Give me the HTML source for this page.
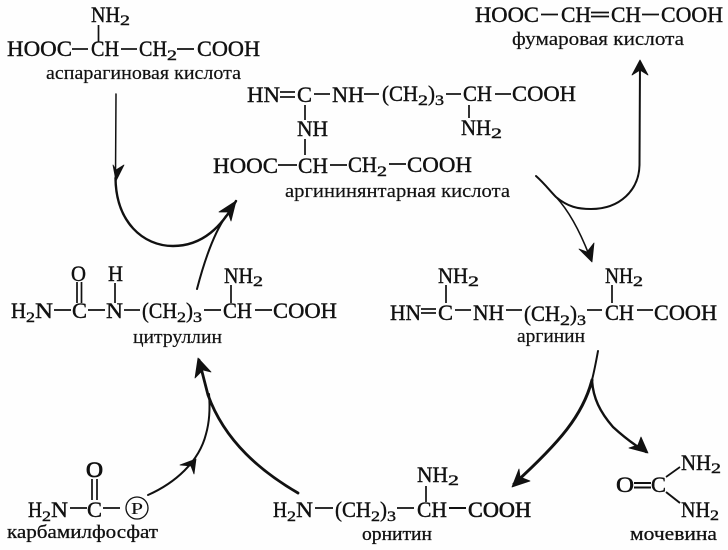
<!DOCTYPE html>
<html><head><meta charset="utf-8"><style>
html,body{margin:0;padding:0;background:#fff}
svg{display:block}
text{font-family:"Liberation Serif","DejaVu Serif",serif;fill:#111;stroke:#111;stroke-width:.4}
.f{font-size:22px}.s{font-size:15px}.l{font-size:19px;stroke-width:.2}
line{stroke:#111;stroke-width:1.7}
.a{fill:none;stroke:#111;stroke-linecap:round;stroke-linejoin:round}
.h{fill:#111;stroke:#111;stroke-width:.8;stroke-linejoin:round}
</style></head><body>
<svg width="728" height="550" viewBox="0 0 728 550" xmlns="http://www.w3.org/2000/svg">
<rect width="728" height="550" fill="#fefefe"/>

<!-- aspartic acid -->
<text class="f" x="91" y="22" textLength="29" lengthAdjust="spacingAndGlyphs">NH</text><text class="s" x="120" y="25" textLength="10" lengthAdjust="spacingAndGlyphs">2</text>
<line x1="98.5" y1="25" x2="98.5" y2="42"/>
<text class="f" x="7" y="56" textLength="65" lengthAdjust="spacingAndGlyphs">HOOC</text>
<line x1="72" y1="49" x2="88" y2="49"/>
<text class="f" x="91" y="56" textLength="28" lengthAdjust="spacingAndGlyphs">CH</text>
<line x1="121" y1="49" x2="137" y2="49"/>
<text class="f" x="139" y="56" textLength="28" lengthAdjust="spacingAndGlyphs">CH</text><text class="s" x="167" y="60" textLength="10" lengthAdjust="spacingAndGlyphs">2</text>
<line x1="177" y1="49" x2="194" y2="49"/>
<text class="f" x="197" y="56" textLength="63" lengthAdjust="spacingAndGlyphs">COOH</text>
<text class="l" x="46" y="79" textLength="195" lengthAdjust="spacingAndGlyphs">аспарагиновая кислота</text>

<!-- argininosuccinic acid -->
<text class="f" x="247" y="102" textLength="33" lengthAdjust="spacingAndGlyphs">HN</text>
<line x1="280" y1="92" x2="295" y2="92"/><line x1="280" y1="97" x2="295" y2="97"/>
<text class="f" x="297" y="102" textLength="15" lengthAdjust="spacingAndGlyphs">C</text>
<line x1="314" y1="94" x2="330" y2="94"/>
<text class="f" x="332" y="102" textLength="32" lengthAdjust="spacingAndGlyphs">NH</text>
<line x1="364" y1="94" x2="379" y2="94"/>
<text class="f" x="382" y="101" textLength="36" lengthAdjust="spacingAndGlyphs">(CH</text><text class="s" x="418" y="105" textLength="10" lengthAdjust="spacingAndGlyphs">2</text><text class="f" x="428" y="101" textLength="7" lengthAdjust="spacingAndGlyphs">)</text><text class="s" x="435" y="105" textLength="9" lengthAdjust="spacingAndGlyphs">3</text>
<line x1="446" y1="94" x2="461" y2="94"/>
<text class="f" x="463" y="101" textLength="29" lengthAdjust="spacingAndGlyphs">CH</text>
<line x1="495" y1="94" x2="511" y2="94"/>
<text class="f" x="512" y="101" textLength="64" lengthAdjust="spacingAndGlyphs">COOH</text>
<line x1="469" y1="105" x2="469" y2="118"/>
<text class="f" x="461" y="135" textLength="30" lengthAdjust="spacingAndGlyphs">NH</text><text class="s" x="491" y="138" textLength="11" lengthAdjust="spacingAndGlyphs">2</text>
<line x1="305" y1="105" x2="305" y2="120"/>
<text class="f" x="297" y="136" textLength="31" lengthAdjust="spacingAndGlyphs">NH</text>
<line x1="305" y1="139" x2="305" y2="155"/>
<text class="f" x="213" y="173" textLength="65" lengthAdjust="spacingAndGlyphs">HOOC</text>
<line x1="278" y1="165" x2="297" y2="165"/>
<text class="f" x="298" y="173" textLength="30" lengthAdjust="spacingAndGlyphs">CH</text>
<line x1="330" y1="165" x2="347" y2="165"/>
<text class="f" x="348" y="172" textLength="29" lengthAdjust="spacingAndGlyphs">CH</text><text class="s" x="377" y="176" textLength="10" lengthAdjust="spacingAndGlyphs">2</text>
<line x1="389" y1="164" x2="406" y2="164"/>
<text class="f" x="407" y="172" textLength="65" lengthAdjust="spacingAndGlyphs">COOH</text>
<text class="l" x="285" y="197" textLength="225" lengthAdjust="spacingAndGlyphs">аргининянтарная кислота</text>

<!-- fumaric acid -->
<text class="f" x="475" y="22" textLength="64" lengthAdjust="spacingAndGlyphs">HOOC</text>
<line x1="541" y1="14.5" x2="558" y2="14.5"/>
<text class="f" x="561" y="22" textLength="30" lengthAdjust="spacingAndGlyphs">CH</text>
<line x1="591" y1="12.5" x2="609" y2="12.5"/><line x1="591" y1="16.5" x2="609" y2="16.5"/>
<text class="f" x="611" y="22" textLength="30" lengthAdjust="spacingAndGlyphs">CH</text>
<line x1="642" y1="14.5" x2="659" y2="14.5"/>
<text class="f" x="661" y="22" textLength="62" lengthAdjust="spacingAndGlyphs">COOH</text>
<text class="l" x="512" y="45" textLength="172" lengthAdjust="spacingAndGlyphs">фумаровая кислота</text>

<!-- citrulline -->
<text class="f" x="71" y="281" textLength="15" lengthAdjust="spacingAndGlyphs">O</text>
<line x1="77" y1="282" x2="77" y2="303"/><line x1="81.5" y1="282" x2="81.5" y2="303"/>
<text class="f" x="108" y="281" textLength="15" lengthAdjust="spacingAndGlyphs">H</text>
<line x1="115" y1="283" x2="115" y2="303"/>
<text class="f" x="224" y="283" textLength="29" lengthAdjust="spacingAndGlyphs">NH</text><text class="s" x="253" y="286" textLength="10" lengthAdjust="spacingAndGlyphs">2</text>
<line x1="231" y1="285" x2="231" y2="303"/>
<text class="f" x="11" y="318" textLength="15" lengthAdjust="spacingAndGlyphs">H</text><text class="s" x="26" y="322" textLength="9" lengthAdjust="spacingAndGlyphs">2</text><text class="f" x="35" y="318" textLength="18" lengthAdjust="spacingAndGlyphs">N</text>
<line x1="54" y1="310" x2="71" y2="310"/>
<text class="f" x="72" y="318" textLength="15" lengthAdjust="spacingAndGlyphs">C</text>
<line x1="88" y1="310" x2="105" y2="310"/>
<text class="f" x="106" y="318" textLength="17" lengthAdjust="spacingAndGlyphs">N</text>
<line x1="124" y1="310" x2="140" y2="310"/>
<text class="f" x="142" y="318" textLength="35" lengthAdjust="spacingAndGlyphs">(CH</text><text class="s" x="177" y="322" textLength="9" lengthAdjust="spacingAndGlyphs">2</text><text class="f" x="186" y="318" textLength="7" lengthAdjust="spacingAndGlyphs">)</text><text class="s" x="193" y="322" textLength="9" lengthAdjust="spacingAndGlyphs">3</text>
<line x1="204" y1="310" x2="221" y2="310"/>
<text class="f" x="223" y="318" textLength="29" lengthAdjust="spacingAndGlyphs">CH</text>
<line x1="255" y1="310" x2="272" y2="310"/>
<text class="f" x="273" y="318" textLength="64" lengthAdjust="spacingAndGlyphs">COOH</text>
<text class="l" x="133" y="343" textLength="89" lengthAdjust="spacingAndGlyphs">цитруллин</text>

<!-- arginine -->
<text class="f" x="438" y="283" textLength="30" lengthAdjust="spacingAndGlyphs">NH</text><text class="s" x="468" y="286" textLength="11" lengthAdjust="spacingAndGlyphs">2</text>
<line x1="446" y1="285" x2="446" y2="303"/>
<text class="f" x="605" y="283" textLength="28" lengthAdjust="spacingAndGlyphs">NH</text><text class="s" x="633" y="286" textLength="10" lengthAdjust="spacingAndGlyphs">2</text>
<line x1="612" y1="285" x2="612" y2="303"/>
<text class="f" x="390" y="320" textLength="31" lengthAdjust="spacingAndGlyphs">HN</text>
<line x1="421" y1="309" x2="436" y2="309"/><line x1="421" y1="313" x2="436" y2="313"/>
<text class="f" x="438" y="320" textLength="15" lengthAdjust="spacingAndGlyphs">C</text>
<line x1="455" y1="310" x2="471" y2="310"/>
<text class="f" x="473" y="320" textLength="31" lengthAdjust="spacingAndGlyphs">NH</text>
<line x1="506" y1="310" x2="522" y2="310"/>
<text class="f" x="524" y="321" textLength="36" lengthAdjust="spacingAndGlyphs">(CH</text><text class="s" x="560" y="325" textLength="10" lengthAdjust="spacingAndGlyphs">2</text><text class="f" x="570" y="321" textLength="7" lengthAdjust="spacingAndGlyphs">)</text><text class="s" x="577" y="325" textLength="9" lengthAdjust="spacingAndGlyphs">3</text>
<line x1="587" y1="310" x2="602" y2="310"/>
<text class="f" x="605" y="320" textLength="29" lengthAdjust="spacingAndGlyphs">CH</text>
<line x1="637" y1="310" x2="653" y2="310"/>
<text class="f" x="654" y="320" textLength="63" lengthAdjust="spacingAndGlyphs">COOH</text>
<text class="l" x="517" y="342" textLength="68" lengthAdjust="spacingAndGlyphs">аргинин</text>

<!-- ornithine -->
<text class="f" x="417" y="482" textLength="31" lengthAdjust="spacingAndGlyphs">NH</text><text class="s" x="448" y="485" textLength="11" lengthAdjust="spacingAndGlyphs">2</text>
<line x1="426" y1="486" x2="426" y2="502"/>
<text class="f" x="273" y="517" textLength="14" lengthAdjust="spacingAndGlyphs">H</text><text class="s" x="287" y="521" textLength="9" lengthAdjust="spacingAndGlyphs">2</text><text class="f" x="296" y="517" textLength="17" lengthAdjust="spacingAndGlyphs">N</text>
<line x1="315" y1="508" x2="333" y2="508"/>
<text class="f" x="335" y="517" textLength="36" lengthAdjust="spacingAndGlyphs">(CH</text><text class="s" x="371" y="521" textLength="9" lengthAdjust="spacingAndGlyphs">2</text><text class="f" x="380" y="517" textLength="7" lengthAdjust="spacingAndGlyphs">)</text><text class="s" x="387" y="521" textLength="9" lengthAdjust="spacingAndGlyphs">3</text>
<line x1="397" y1="508" x2="414" y2="508"/>
<text class="f" x="417" y="517" textLength="30" lengthAdjust="spacingAndGlyphs">CH</text>
<line x1="449" y1="508" x2="466" y2="508" style="stroke-width:2"/>
<text class="f" x="468" y="517" textLength="63" lengthAdjust="spacingAndGlyphs" style="stroke-width:.6">COOH</text>
<text class="l" x="362" y="540" textLength="70" lengthAdjust="spacingAndGlyphs" style="stroke-width:.3">орнитин</text>

<!-- carbamoyl phosphate -->
<text class="f" x="86" y="477" textLength="17" lengthAdjust="spacingAndGlyphs" style="stroke-width:.8">O</text>
<line x1="92" y1="479" x2="92" y2="500"/><line x1="97" y1="479" x2="97" y2="500"/>
<text class="f" x="28" y="517" textLength="14" lengthAdjust="spacingAndGlyphs">H</text><text class="s" x="42" y="521" textLength="9" lengthAdjust="spacingAndGlyphs">2</text><text class="f" x="51" y="517" textLength="17" lengthAdjust="spacingAndGlyphs">N</text>
<line x1="70" y1="508" x2="87" y2="508"/>
<text class="f" x="87" y="517" textLength="15" lengthAdjust="spacingAndGlyphs">C</text>
<line x1="103" y1="508" x2="120" y2="508"/>
<circle cx="137" cy="508" r="11" fill="none" stroke="#111" stroke-width="1.3"/>
<text x="131" y="514" textLength="12" lengthAdjust="spacingAndGlyphs" style="font-size:17px;stroke-width:.1">P</text>
<text class="l" x="7" y="538" textLength="151" lengthAdjust="spacingAndGlyphs" style="stroke-width:.3">карбамилфосфат</text>

<!-- urea -->
<text class="f" x="681" y="470" textLength="30" lengthAdjust="spacingAndGlyphs">NH</text><text class="s" x="711" y="473" textLength="10" lengthAdjust="spacingAndGlyphs">2</text>
<text class="f" x="616" y="492" textLength="18" lengthAdjust="spacingAndGlyphs" style="stroke-width:.5">O</text>
<line x1="634" y1="483" x2="651" y2="483" style="stroke-width:2"/><line x1="634" y1="487.5" x2="651" y2="487.5" style="stroke-width:2"/>
<text class="f" x="651" y="492" textLength="15" lengthAdjust="spacingAndGlyphs">C</text>
<line x1="666" y1="477" x2="680" y2="467"/><line x1="666" y1="492" x2="680" y2="503" style="stroke-width:2"/>
<text class="f" x="681" y="517" textLength="29" lengthAdjust="spacingAndGlyphs">NH</text><text class="s" x="710" y="520" textLength="9" lengthAdjust="spacingAndGlyphs">2</text>
<text class="l" x="630" y="540" textLength="87" lengthAdjust="spacingAndGlyphs" style="stroke-width:.3">мочевина</text>

<!-- arrow: aspartate + citrulline -> argininosuccinate -->
<path class="a" stroke-width="1.5" d="M116 94 L115.5 178"/>
<path class="a" stroke-width="2.4" d="M115.5 178 C116 222 143 246 173 246 C203 246 222 226 236 201"/>
<path class="a" stroke-width="2" d="M197 289 C203 266 212 236 226 216"/>
<path class="h" d="M236 201 L231 221 L228 212 L219 212 Z"/>
<path class="h" d="M116 181 L113 165 L116 170 L124 165 Z"/>

<!-- arrow: argininosuccinate -> fumarate, arginine -->
<path class="a" stroke-width="2" d="M536 176 C545 184 550 191 556 197 C568 207 578 209 591 209 C620 209 639 190 639.5 165 L640 62"/>
<path class="a" stroke-width="1.6" d="M556 197 C570 212 582 236 591 260"/>
<path class="h" d="M640 60 L648 75 L640 70 L632 75 Z"/>
<path class="h" d="M592 262 L579 249 L587 252 L594 243 Z"/>

<!-- arrow: ornithine + carbamoyl -> citrulline -->
<path class="a" stroke-width="2.8" d="M298 493 C262 472 225 442 208 395 L199 360"/>
<path class="a" stroke-width="2" d="M148 495 C175 483 199 462 206 434 C210 420 210 406 209 394"/>
<path class="h" d="M198 358 L211 372 L203 370 L195 378 Z"/>
<path class="h" d="M196 459 L194 474 L191 466 L180 465 Z"/>

<!-- arrow: arginine -> ornithine, urea -->
<path class="a" stroke-width="2" d="M598 351 C596 362 594 372 592 380"/>
<path class="a" stroke-width="3" d="M592 380 C583 415 560 442 514 484"/>
<path class="a" stroke-width="2.4" d="M592 380 C593 398 600 412 613 427 C625 438 636 446 646 452"/>
<path class="h" d="M512 487 L519 469 L520 477 L530 481 Z"/>
<path class="h" d="M648 453 L641 437 L638 445 L629 448 Z"/>
</svg>
</body></html>
